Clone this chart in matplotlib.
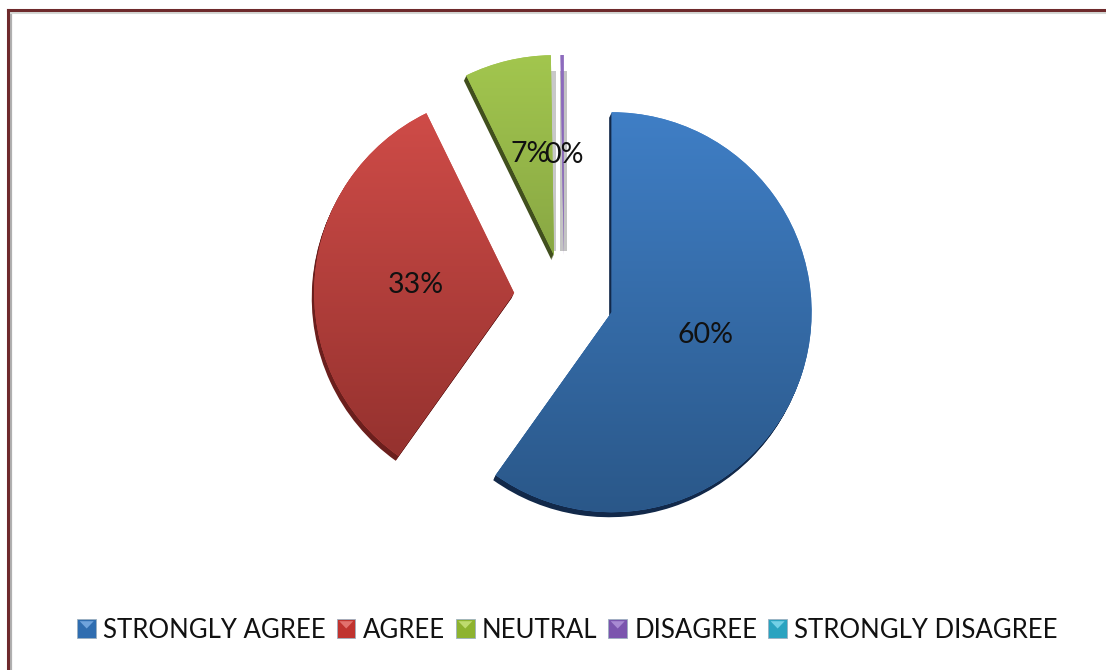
import numpy as np
import matplotlib
matplotlib.use("Agg")
import matplotlib.pyplot as plt
from matplotlib.patches import Patch, Wedge, Rectangle, Polygon
from matplotlib.legend_handler import HandlerPatch
from matplotlib.colors import LinearSegmentedColormap

plt.rcParams['font.family'] = ['Lato', 'DejaVu Sans']

categories = ["STRONGLY AGREE", "AGREE", "NEUTRAL", "DISAGREE", "STRONGLY DISAGREE"]
values = [60, 33, 7, 0.25, 0]
explode = [0.25, 0.25, 0.215, 0.21, 0.0]
light = ["#4080C8", "#D24D49", "#A2C64E", "#8E6CBE", "#3FB4D0"]
dark = ["#2A5788", "#8F2F2C", "#70893A", "#7A5BA8", "#2A8AA0"]
shadow = ["#12294A", "#6B1F1D", "#414F1E", "#B4B4B4", "#1E6A7C"]
legend_colors = ["#2F6DB0", "#C0332F", "#8DB32F", "#7B55AE", "#2AA3C0"]
legend_tops = ["#6FA3DC", "#E2716D", "#BEDB6E", "#A88AD2", "#72D0E6"]
label_nudge = [(-1, -8), (1, 0), (-1, -4), (1, 0)]

W, H = 1106, 670
R = 200.0
cx, cy = 564.0, 297.0

fig = plt.figure(figsize=(W / 100, H / 100), dpi=100, facecolor="white")
ax = fig.add_axes([0, 0, 1, 1])

wedges, texts, autotexts = ax.pie(
    values[:4], explode=explode[:4], startangle=90, counterclock=False,
    radius=1.0, colors=light[:4], autopct="%.0f%%", pctdistance=0.5,
    textprops=dict(fontsize=20.5, color="#111111", zorder=10),
    wedgeprops=dict(linewidth=0),
)
for t, (dx, dy) in zip(autotexts, label_nudge):
    x, y = t.get_position()
    t.set_position((x + dx / R, y - dy / R))

grad = np.linspace(0, 1, 256).reshape(-1, 1)
for i, w in enumerate(wedges):
    if i == 3:
        # the thin slice only casts a soft grey band around itself
        s = Rectangle((w.center[0] - 0.02, w.center[1] + 0.02), 0.036, 0.9,
                      facecolor=shadow[i], edgecolor="none", zorder=1.5, alpha=0.8)
        ax.add_patch(s)
    else:
        for k in np.linspace(1, 0.2, 5):
            s = Wedge((w.center[0] - 0.012 * k, w.center[1] - 0.025 * k), w.r, w.theta1, w.theta2,
                      facecolor=shadow[i], edgecolor="none", zorder=1.5)
            ax.add_patch(s)
    if i == 2:
        s = Rectangle((w.center[0] - 0.02, w.center[1] + 0.02), 0.03, 0.9,
                      facecolor="#C8C8C8", edgecolor="none", zorder=1.4)
        ax.add_patch(s)
    cmap = LinearSegmentedColormap.from_list("g", [light[i], dark[i]])
    y0, y1 = w.center[1] + 1.0, w.center[1] - 1.0
    if i == 0:
        y0, y1 = 1.0, -1.1
    im = ax.imshow(grad, cmap=cmap, aspect="auto", zorder=2,
                   extent=(w.center[0] - 1.1, w.center[0] + 1.1, y1, y0))
    im.set_clip_path(w)
    w.set_zorder(1.9)
ax.set_xlim(-cx / R, (W - cx) / R)
ax.set_ylim(-(H - cy) / R, cy / R)
ax.set_aspect("equal")
ax.axis("off")

# frame of the pasted screenshot
fig.add_artist(plt.Line2D([11 / W, 11 / W], [0, 1 - 12 / H], color="#B0B0B0", lw=1.6))
fig.add_artist(plt.Line2D([10 / W, 1], [1 - 12.8 / H, 1 - 12.8 / H], color="#D5D8D5", lw=1.5))
fig.add_artist(plt.Line2D([8.4 / W, 8.4 / W], [0, 1 - 10.4 / H], color="#6E2A2C", lw=2.2))
fig.add_artist(plt.Line2D([7.6 / W, 1], [1 - 10.4 / H, 1 - 10.4 / H], color="#6E2A2C", lw=2.2))


class BevelHandler(HandlerPatch):
    """Legend key: a square with a lighter downward triangle on its top edge."""
    def create_artists(self, legend, orig, xd, yd, width, height, fontsize, trans):
        base = Rectangle((-xd, -yd), width, height, facecolor=orig.get_facecolor(),
                         edgecolor="#9DB0C0", linewidth=0.6, transform=trans)
        top = legend_tops[legend_colors.index(matplotlib.colors.to_hex(orig.get_facecolor()).upper())]
        tri = Polygon([(-xd + width * 0.12, -yd + height * 0.9),
                       (-xd + width * 0.88, -yd + height * 0.9),
                       (-xd + width * 0.5, -yd + height * 0.5)],
                      closed=True, facecolor=top, edgecolor="none", transform=trans)
        return [base, tri]


handles = [Patch(facecolor=c) for c in legend_colors]
leg = ax.legend(handles, categories, ncols=5, loc="center", frameon=False,
                bbox_to_anchor=(567.5 / W, 1 - 630 / H), bbox_transform=fig.transFigure,
                fontsize=18.5, handlelength=0.72, handleheight=0.72, handletextpad=0.28,
                columnspacing=0.437, labelcolor="#111111",
                handler_map={Patch: BevelHandler()})

fig.savefig("out.png", dpi=100)
